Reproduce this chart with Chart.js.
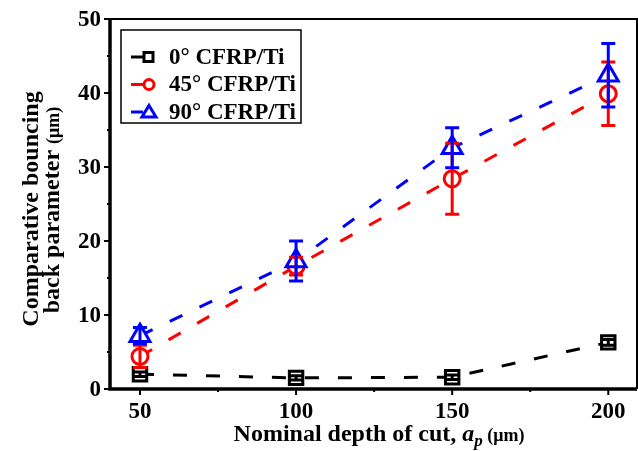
<!DOCTYPE html>
<html>
<head>
<meta charset="utf-8">
<script src="https://cdn.jsdelivr.net/npm/chart.js@4/dist/chart.umd.min.js"></script>
<style>
  html, body { margin: 0; padding: 0; background: #fff; overflow: hidden; }
  canvas { display: block; }
</style>
</head>
<body>
<canvas id="bounceChart" width="638" height="451"></canvas>
<script>
const depths = [50, 100, 150, 200];
const deg0 = [2.0, 1.5, 1.6, 6.3];
const deg0Err = [0.3, 0.3, 0.3, 0.4];
const deg45 = [4.4, 16.6, 28.4, 39.9];
const deg45Err = [1.5, 1.2, 4.8, 4.3];
const deg90 = [7.2, 17.3, 32.6, 42.4];
const deg90Err = [1.1, 2.7, 2.7, 4.3];
const yTickLabels = [0, 10, 20, 30, 40, 50];
const xTickLabels = [50, 100, 150, 200];

const serif = '"Liberation Serif", "Times New Roman", serif';

const seriesInfo = [
    { label: '0° CFRP/Ti', values: deg0, errors: deg0Err, color: '#000000', marker: 'rect', radius: 9.5 },
    { label: '45° CFRP/Ti', values: deg45, errors: deg45Err, color: '#ff0000', marker: 'circle', radius: 8 },
    { label: '90° CFRP/Ti', values: deg90, errors: deg90Err, color: '#0000ff', marker: 'triangle', radius: 11.5 },
];

// error bars, frame, ticks, titles and legend drawn by hand
const extras = {
    id: 'extras',
    afterDatasetsDraw(chart) {
        const ctx = chart.ctx;
        const xs = chart.scales.x, ys = chart.scales.y;
        ctx.save();
        seriesInfo.forEach(s => {
            ctx.strokeStyle = s.color;
            ctx.lineWidth = 3;
            s.values.forEach((v, i) => {
                const x = xs.getPixelForValue(depths[i]);
                const top = ys.getPixelForValue(v + s.errors[i]);
                const bot = ys.getPixelForValue(v - s.errors[i]);
                ctx.beginPath();
                ctx.moveTo(x, top); ctx.lineTo(x, bot);
                ctx.moveTo(x - 7, top); ctx.lineTo(x + 7, top);
                ctx.moveTo(x - 7, bot); ctx.lineTo(x + 7, bot);
                ctx.stroke();
            });
        });
        ctx.restore();
    },
    afterDraw(chart) {
        const ctx = chart.ctx;
        const xs = chart.scales.x, ys = chart.scales.y;
        const a = chart.chartArea;
        ctx.save();
        ctx.strokeStyle = '#000';
        ctx.fillStyle = '#000';
        // frame
        ctx.lineWidth = 2;
        ctx.beginPath();
        ctx.moveTo(a.left, a.top); ctx.lineTo(a.right, a.top); ctx.lineTo(a.right, a.bottom);
        ctx.stroke();
        ctx.lineWidth = 3.5;
        ctx.beginPath();
        ctx.moveTo(a.left, a.top - 1); ctx.lineTo(a.left, a.bottom); ctx.lineTo(a.right, a.bottom);
        ctx.stroke();
        // ticks and tick labels
        ctx.lineWidth = 2;
        ctx.font = 'bold 23px ' + serif;
        for (let v = 0; v <= 50; v += 5) {
            const y = ys.getPixelForValue(v);
            const len = v % 10 === 0 ? 6 : 3;
            ctx.beginPath(); ctx.moveTo(a.left, y); ctx.lineTo(a.left - len, y); ctx.stroke();
        }
        ctx.textAlign = 'right'; ctx.textBaseline = 'middle';
        yTickLabels.forEach(v => ctx.fillText(String(v), a.left - 9, ys.getPixelForValue(v) + 1));
        for (let v = 50; v <= 200; v += 25) {
            const x = xs.getPixelForValue(v);
            const len = v % 50 === 0 ? 6 : 3;
            ctx.beginPath(); ctx.moveTo(x, a.bottom); ctx.lineTo(x, a.bottom + len); ctx.stroke();
        }
        ctx.textAlign = 'center'; ctx.textBaseline = 'middle';
        xTickLabels.forEach(v => ctx.fillText(String(v), xs.getPixelForValue(v), 412));

        // x title with italic subscript
        ctx.textBaseline = 'alphabetic';
        const parts = [
            { t: 'Nominal depth of cut, ', f: 'bold 24px ' + serif, dy: 0 },
            { t: 'a', f: 'italic bold 24px ' + serif, dy: 0 },
            { t: 'p', f: 'italic bold 17px ' + serif, dy: 5 },
            { t: ' (μm)', f: 'bold 18px ' + serif, dy: 0 },
        ];
        let total = 0;
        parts.forEach(p => { ctx.font = p.f; p.w = ctx.measureText(p.t).width; total += p.w; });
        let px = 379 - total / 2;
        parts.forEach(p => {
            ctx.font = p.f; ctx.textAlign = 'left';
            ctx.fillText(p.t, px, 441 + p.dy);
            px += p.w;
        });

        // y title, two lines rotated
        ctx.save();
        ctx.rotate(-Math.PI / 2);
        ctx.textAlign = 'center';
        ctx.font = 'bold 24px ' + serif;
        ctx.fillText('Comparative bouncing', -209, 38);
        const l2a = 'back parameter ', l2b = '(μm)';
        const wa = ctx.measureText(l2a).width;
        ctx.font = 'bold 18px ' + serif;
        const wb = ctx.measureText(l2b).width;
        const sx = -210 - (wa + wb) / 2;
        ctx.textAlign = 'left';
        ctx.font = 'bold 24px ' + serif;
        ctx.fillText(l2a, sx, 59);
        ctx.font = 'bold 18px ' + serif;
        ctx.fillText(l2b, sx + wa, 59);
        ctx.restore();

        // legend
        ctx.strokeStyle = '#000';
        ctx.lineWidth = 1.5;
        ctx.strokeRect(121, 30, 180, 93);
        seriesInfo.forEach((s, i) => {
            const cy = 57 + i * 27.5;
            ctx.strokeStyle = s.color;
            ctx.lineWidth = 3;
            ctx.beginPath(); ctx.moveTo(131, cy); ctx.lineTo(143, cy); ctx.stroke();
            ctx.fillStyle = '#fff';
            ctx.beginPath();
            if (s.marker === 'rect') {
                ctx.rect(144, cy - 4.5, 9, 9);
            } else if (s.marker === 'circle') {
                ctx.arc(149, cy, 5, 0, Math.PI * 2);
            } else {
                ctx.moveTo(149, cy - 6.5); ctx.lineTo(156, cy + 5); ctx.lineTo(142, cy + 5); ctx.closePath();
            }
            ctx.fill(); ctx.stroke();
            ctx.fillStyle = '#000';
            ctx.font = 'bold 23px ' + serif;
            ctx.textAlign = 'left';
            ctx.textBaseline = 'middle';
            ctx.fillText(s.label, 169, cy + 1);
        });
        ctx.restore();
    }
};

const datasets = seriesInfo.map((s, i) => ({
    label: s.label,
    data: s.values.map((v, j) => ({ x: depths[j], y: v })),
    borderColor: s.color,
    backgroundColor: '#fff',
    borderWidth: 3,
    borderDash: [14, 19],
    pointStyle: s.marker,
    pointRadius: s.radius,
    pointBorderWidth: 3,
    pointBorderColor: s.color,
    pointBackgroundColor: '#fff',
    tension: 0,
    order: 3 - i,
    clip: false,
}));

new Chart(document.getElementById('bounceChart').getContext('2d'), {
    type: 'line',
    data: { datasets: datasets },
    plugins: [extras],
    options: {
        responsive: false,
        animation: false,
        layout: { autoPadding: false, padding: { top: 19, right: 1, left: 0, bottom: 0 } },
        plugins: { legend: { display: false }, tooltip: { enabled: false } },
        scales: {
            x: {
                type: 'linear',
                min: 40.4,
                max: 209.2,
                afterFit: (scale) => { scale.height = 62; },
                grid: { display: false, drawTicks: false },
                border: { display: false },
                ticks: { display: false },
            },
            y: {
                min: 0,
                max: 50,
                afterFit: (scale) => { scale.width = 110; },
                grid: { display: false, drawTicks: false },
                border: { display: false },
                ticks: { display: false },
            },
        },
    },
});
</script>
</body>
</html>
